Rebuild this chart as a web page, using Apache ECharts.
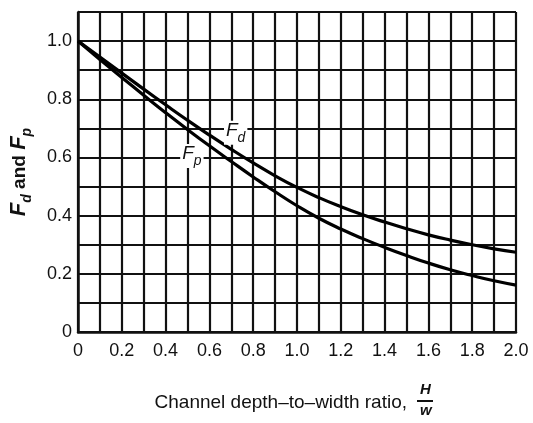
<!DOCTYPE html>
<html>
<head>
<meta charset="utf-8">
<script src="https://cdn.jsdelivr.net/npm/echarts@6/dist/echarts.min.js"></script>
<style>
  html, body { margin: 0; padding: 0; background: #fff; }
  #chart { width: 533px; height: 423px; }
</style>
</head>
<body>
<div id="chart"></div>
<script>
// H/w values, every 0.1
var ratio = [0, 0.1, 0.2, 0.3, 0.4, 0.5, 0.6, 0.7, 0.8, 0.9, 1.0,
             1.1, 1.2, 1.3, 1.4, 1.5, 1.6, 1.7, 1.8, 1.9, 2.0];
// F_d curve (upper)
var fd = [1.0, 0.945, 0.89, 0.835, 0.781, 0.728, 0.677, 0.628, 0.581, 0.537, 0.497,
          0.462, 0.431, 0.403, 0.378, 0.355, 0.334, 0.316, 0.30, 0.286, 0.274];
// F_p curve (lower)
var fp = [1.0, 0.937, 0.875, 0.814, 0.754, 0.696, 0.64, 0.586, 0.533, 0.482, 0.434,
          0.391, 0.354, 0.321, 0.291, 0.263, 0.237, 0.214, 0.194, 0.176, 0.161];
// where the curve names sit
var curveLabels = [[0.72, 0.685, 'd'], [0.52, 0.605, 'p']];

var font = '"Liberation Sans", Arial, sans-serif';

function pairs(ys) {
    var out = [];
    for (var i = 0; i < ratio.length; i++) {
        out.push([ratio[i], ys[i]]);
    }
    return out;
}

function evenTenth(v) {
    return Math.round(v * 10) % 2 === 0;
}

var chart = echarts.init(document.getElementById('chart'));

var option = {
    animation: false,
    backgroundColor: '#fff',
    grid: {
        left: 75,
        right: 17,
        top: 12,
        bottom: 91
    },
    xAxis: {
        type: 'value',
        min: 0,
        max: 2,
        interval: 0.1,
        axisLine: { show: true, onZero: false, lineStyle: { color: '#111', width: 2.5 } },
        axisTick: { show: false },
        axisLabel: {
            color: '#111',
            fontFamily: font,
            fontSize: 18,
            margin: 10,
            showMaxLabel: true,
            formatter: function (v) {
                if (!evenTenth(v)) return '';
                return v === 0 ? '0' : v.toFixed(1);
            }
        },
        splitLine: { show: true, lineStyle: { color: '#111', width: 2.2 } }
    },
    yAxis: {
        type: 'value',
        min: 0,
        max: 1.1,
        interval: 0.1,
        name: '{f|F}{s|d}{t| and }{f|F}{s|p}',
        nameLocation: 'middle',
        nameRotate: 90,
        nameGap: 44,
        nameTextStyle: {
            color: '#111',
            rich: {
                f: { fontFamily: font, fontSize: 22, fontWeight: 'bold', fontStyle: 'italic', color: '#111', verticalAlign: 'top' },
                s: { fontFamily: font, fontSize: 14, fontWeight: 'bold', fontStyle: 'italic', color: '#111', verticalAlign: 'bottom', padding: [12, 0, 0, 0] },
                t: { fontFamily: font, fontSize: 19, fontWeight: 'bold', color: '#111', verticalAlign: 'top', padding: [2, 0, 0, 0] }
            }
        },
        axisLine: { show: true, lineStyle: { color: '#111', width: 2.5 } },
        axisTick: { show: false },
        axisLabel: {
            color: '#111',
            fontFamily: font,
            fontSize: 18,
            margin: 6,
            formatter: function (v) {
                if (v > 1.05 || !evenTenth(v)) return '';
                return v === 0 ? '0' : v.toFixed(1);
            }
        },
        splitLine: { show: true, lineStyle: { color: '#111', width: 2.2 } }
    },
    series: [
        {
            name: 'Fd',
            type: 'line',
            smooth: true,
            symbol: 'none',
            lineStyle: { color: '#000', width: 3.2 },
            data: pairs(fd),
            z: 3
        },
        {
            name: 'Fp',
            type: 'line',
            smooth: true,
            symbol: 'none',
            lineStyle: { color: '#000', width: 3.2 },
            data: pairs(fp),
            z: 3
        }
    ],
    graphic: [
        {
            type: 'text',
            right: 126,
            top: 393,
            style: {
                text: 'Channel depth\u2013to\u2013width ratio,',
                font: '19px ' + font,
                fill: '#111'
            }
        },
        {
            type: 'text',
            left: 420,
            top: 382,
            style: { text: 'H', font: 'italic bold 15px ' + font, fill: '#111' }
        },
        {
            type: 'line',
            shape: { x1: 417, y1: 401, x2: 433, y2: 401 },
            style: { stroke: '#111', lineWidth: 2 }
        },
        {
            type: 'text',
            left: 420,
            top: 403,
            style: { text: 'w', font: 'italic bold 15px ' + font, fill: '#111' }
        }
    ]
};

chart.setOption(option);

// curve names, placed at data coordinates through the axes
var nameGraphics = curveLabels.map(function (c) {
    var pt = chart.convertToPixel({ gridIndex: 0 }, [c[0], c[1]]);
    return {
        type: 'text',
        x: pt[0],
        y: pt[1],
        z: 10,
        style: {
            text: '{f|F}{s|' + c[2] + '}',
            align: 'center',
            verticalAlign: 'middle',
            backgroundColor: '#fff',
            padding: [0, 2, 0, 2],
            rich: {
                f: { fontFamily: font, fontSize: 19, fontStyle: 'italic', fill: '#111', verticalAlign: 'top' },
                s: { fontFamily: font, fontSize: 14, fontStyle: 'italic', fill: '#111', verticalAlign: 'bottom', padding: [10, 0, 0, 0] }
            }
        }
    };
});
chart.setOption({ graphic: option.graphic.concat(nameGraphics) });
</script>
</body>
</html>
